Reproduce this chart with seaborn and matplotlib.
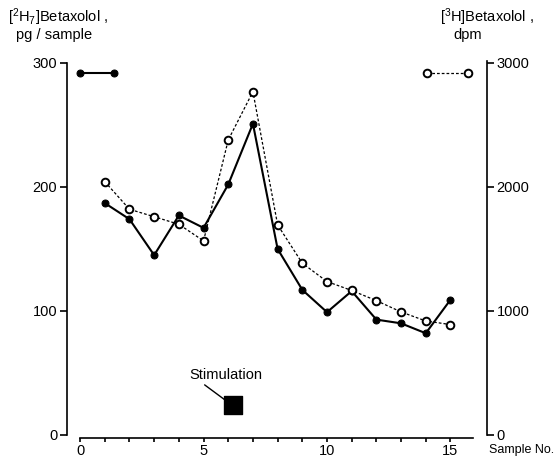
import matplotlib
matplotlib.use("Agg")
import matplotlib.pyplot as plt
from matplotlib import font_manager
import seaborn as sns
import pandas as pd

# ---- data ----
samples = list(range(1, 16))
h2_pg = [187, 174, 145, 177, 167, 202, 251, 150, 117, 99, 116, 93, 90, 82, 109]
h3_dpm = [2043, 1820, 1760, 1699, 1565, 2379, 2769, 1694, 1385, 1237, 1165, 1083, 992, 919, 890]
legend_h2_x = [0.0, 1.37]
legend_h2_y = [292, 292]
legend_h3_x = [14.05, 15.7]
legend_h3_y = [2920, 2920]
stim_x = [6.2]
stim_y = [24]
left_ticks = [0, 100, 200, 300]
right_ticks = [0, 1000, 2000, 3000]
x_ticks = list(range(0, 16))
x_labels = [str(t) if t % 5 == 0 else "" for t in x_ticks]

sns.set_style("white")
names = {f.name for f in font_manager.fontManager.ttflist}
fam = "Liberation Sans" if "Liberation Sans" in names else "DejaVu Sans"
fs = 10.5 if fam == "Liberation Sans" else 9.5
plt.rcParams["font.family"] = [fam, "DejaVu Sans"]
plt.rcParams["mathtext.fontset"] = "custom"
plt.rcParams["mathtext.rm"] = fam
plt.rcParams["mathtext.it"] = fam
plt.rcParams["font.size"] = fs
plt.rcParams["text.color"] = "black"

fig = plt.figure(figsize=(5.58, 4.58), dpi=100)
ax = fig.add_axes([67 / 558, 20 / 458, 420 / 558, (438 - 56.8) / 458])
ax2 = ax.twinx()

df1 = pd.DataFrame({"x": samples, "y": h2_pg})
df2 = pd.DataFrame({"x": samples, "y": h3_dpm})

sns.lineplot(data=df1, x="x", y="y", ax=ax, color="black", linewidth=1.5,
             marker="o", markersize=5, markerfacecolor="black",
             markeredgecolor="black", zorder=3)
sns.lineplot(x=legend_h2_x, y=legend_h2_y, ax=ax, color="black", linewidth=1.5,
             marker="o", markersize=5, markerfacecolor="black",
             markeredgecolor="black")

sns.lineplot(data=df2, x="x", y="y", ax=ax2, color="black", linewidth=0.9,
             linestyle=(0, (2.2, 1.6)), marker="o", markersize=5.5,
             markerfacecolor="white", markeredgecolor="black",
             markeredgewidth=1.4, zorder=4)
sns.lineplot(x=legend_h3_x, y=legend_h3_y, ax=ax2, color="black", linewidth=0.9,
             linestyle=(0, (2.2, 1.6)), marker="o", markersize=5.5,
             markerfacecolor="white", markeredgecolor="black",
             markeredgewidth=1.4)

sns.scatterplot(x=stim_x, y=stim_y, ax=ax, marker="s", s=150, color="black",
                edgecolor="black")
ax.annotate("Stimulation", xy=(stim_x[0] - 0.25, stim_y[0] + 3),
            xytext=(stim_x[0] - 0.3, stim_y[0] + 19), ha="center", va="bottom",
            fontsize=fs, color="black",
            arrowprops=dict(arrowstyle="-", color="black", lw=1,
                            shrinkA=0, shrinkB=0,
                            relpos=(0.15, 0.0)))

ax.set_xlim(-0.53, 16.48)
ax.set_ylim(-2.5, 305)
ax2.set_ylim(-25, 3050)

for a in (ax, ax2):
    a.set_xlabel("")
    a.set_ylabel("")
    a.grid(False)
    for s in a.spines.values():
        s.set_visible(False)
    a.set_facecolor("none")

ax.spines["left"].set_visible(True)
ax.spines["left"].set_bounds(0, 300)
ax.spines["bottom"].set_visible(True)
ax.spines["bottom"].set_bounds(0, 15.9)
ax2.spines["right"].set_visible(True)
ax2.spines["right"].set_bounds(0, 3020)
for s in (ax.spines["left"], ax.spines["bottom"], ax2.spines["right"]):
    s.set_color("black")
    s.set_linewidth(1.2)

ax.set_yticks(left_ticks)
ax.set_yticklabels([str(t) for t in left_ticks])
ax.set_xticks(x_ticks)
ax.set_xticklabels(x_labels)
ax.tick_params(axis="y", left=True, direction="out", length=5, width=1.2,
               pad=2, labelsize=fs, colors="black")
ax.tick_params(axis="x", bottom=True, direction="out", length=3, width=1.2,
               pad=1, labelsize=fs, colors="black")
ax2.set_yticks(right_ticks)
ax2.set_yticklabels([str(t) for t in right_ticks])
ax2.tick_params(axis="y", right=True, left=False, direction="out", length=5,
                width=1.2, pad=2, labelsize=fs, colors="black")

fig.text(8 / 558, 1 - 17 / 458, r"[$^{2}$H$_{7}$]Betaxolol ,", ha="left",
         va="center", fontsize=fs)
fig.text(16 / 558, 1 - 35 / 458, "pg / sample", ha="left", va="center",
         fontsize=fs)
fig.text(440 / 558, 1 - 17 / 458, r"[$^{3}$H]Betaxolol ,", ha="left",
         va="center", fontsize=fs)
fig.text(453 / 558, 1 - 35 / 458, "dpm", ha="left", va="center", fontsize=fs)
fig.text(489 / 558, 1 - 450 / 458, "Sample No.", ha="left", va="center",
         fontsize=fs - 1.5)

fig.savefig("out.png", dpi=100)
